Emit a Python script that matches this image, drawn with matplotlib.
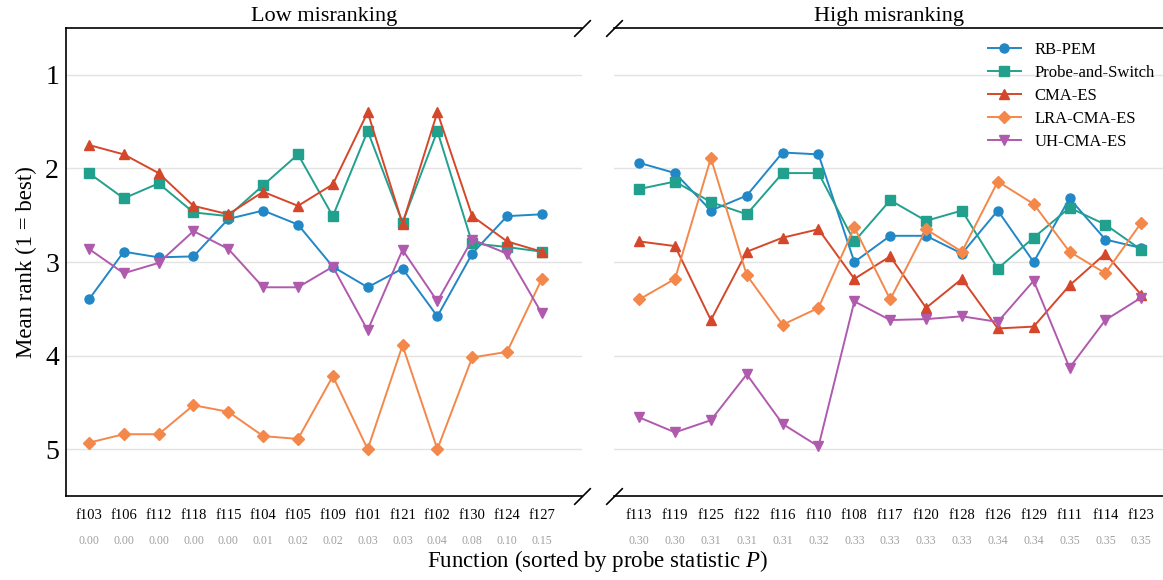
import matplotlib
matplotlib.use("Agg")
import matplotlib.pyplot as plt
import matplotlib.transforms as mtransforms

plt.rcParams["font.family"] = ["Liberation Serif", "DejaVu Serif"]
plt.rcParams["mathtext.fontset"] = "custom"
plt.rcParams["mathtext.rm"] = "Liberation Serif"
plt.rcParams["mathtext.it"] = "Liberation Serif:italic"

# Low misranking group
low_funcs = ["f103", "f106", "f112", "f118", "f115", "f104", "f105",
             "f109", "f101", "f121", "f102", "f130", "f124", "f127"]
low_p = ["0.00", "0.00", "0.00", "0.00", "0.00", "0.01", "0.02",
         "0.02", "0.03", "0.03", "0.04", "0.08", "0.10", "0.15"]
low_rbpem = [3.40, 2.89, 2.95, 2.94, 2.54, 2.45, 2.60, 3.05, 3.27, 3.07, 3.58, 2.91, 2.51, 2.49]
low_probe = [2.05, 2.32, 2.16, 2.47, 2.51, 2.18, 1.85, 2.51, 1.60, 2.58, 1.60, 2.80, 2.84, 2.89]
low_cma = [1.75, 1.85, 2.05, 2.40, 2.49, 2.25, 2.40, 2.17, 1.40, 2.59, 1.40, 2.51, 2.78, 2.89]
low_lra = [4.93, 4.84, 4.84, 4.53, 4.60, 4.86, 4.89, 4.22, 5.00, 3.89, 5.00, 4.02, 3.96, 3.18]
low_uh = [2.86, 3.12, 3.01, 2.67, 2.86, 3.27, 3.27, 3.05, 3.73, 2.87, 3.42, 2.76, 2.91, 3.55]

# High misranking group
high_funcs = ["f113", "f119", "f125", "f122", "f116", "f110", "f108", "f117",
              "f120", "f128", "f126", "f129", "f111", "f114", "f123"]
high_p = ["0.30", "0.30", "0.31", "0.31", "0.31", "0.32", "0.33", "0.33",
          "0.33", "0.33", "0.34", "0.34", "0.35", "0.35", "0.35"]
high_rbpem = [1.94, 2.05, 2.45, 2.29, 1.83, 1.85, 3.00, 2.72, 2.72, 2.91, 2.45, 3.00, 2.32, 2.76, 2.85]
high_probe = [2.22, 2.14, 2.36, 2.49, 2.05, 2.05, 2.78, 2.34, 2.56, 2.45, 3.07, 2.74, 2.42, 2.60, 2.87]
high_cma = [2.78, 2.83, 3.62, 2.89, 2.74, 2.65, 3.18, 2.94, 3.49, 3.18, 3.71, 3.69, 3.25, 2.91, 3.35]
high_lra = [3.40, 3.18, 1.89, 3.14, 3.67, 3.49, 2.63, 3.40, 2.65, 2.89, 2.14, 2.38, 2.89, 3.12, 2.58]
high_uh = [4.66, 4.82, 4.69, 4.20, 4.73, 4.97, 3.42, 3.62, 3.61, 3.58, 3.64, 3.20, 4.13, 3.62, 3.38]

methods = ["RB-PEM", "Probe-and-Switch", "CMA-ES", "LRA-CMA-ES", "UH-CMA-ES"]
colors = ["#2187c6", "#22a08e", "#d5472a", "#f4874a", "#b05aae"]
markers = ["o", "s", "^", "D", "v"]

fig = plt.figure(figsize=(11.63, 5.8), dpi=100)
ax1 = fig.add_axes([0.0567, 0.1448, 0.4437, 0.8069])
ax2 = fig.add_axes([0.5280, 0.1448, 0.4721, 0.8069])

groups = [
    (ax1, low_funcs, low_p, [low_rbpem, low_probe, low_cma, low_lra, low_uh], "Low misranking"),
    (ax2, high_funcs, high_p, [high_rbpem, high_probe, high_cma, high_lra, high_uh], "High misranking"),
]

for ax, funcs, pvals, series, title in groups:
    x = list(range(len(funcs)))
    for vals, name, c, m in zip(series, methods, colors, markers):
        ax.plot(x, vals, color=c, marker=m, markersize=6.5 if m != "D" else 6,
                linewidth=1.4, label=name, zorder=3)
    ax.set_ylim(5.5, 0.5)
    ax.set_yticks([1, 2, 3, 4, 5])
    ax.grid(axis="y", color="#e3e3e3", linewidth=1.0, zorder=0)
    ax.set_xticks(x)
    ax.set_xticklabels(funcs, fontsize=10.5)
    ax.tick_params(axis="both", length=0)
    ax.tick_params(axis="x", pad=9)
    ax.set_title(title, fontsize=16, pad=5)
    for s in ax.spines.values():
        s.set_linewidth(1.2)
    ax.spines["right"].set_visible(False)
    trans = mtransforms.blended_transform_factory(ax.transData, ax.transAxes)
    for xi, p in zip(x, pvals):
        ax.text(xi, -0.097, p, transform=trans, ha="center", va="center",
                fontsize=8.5, color="#a0a0a0")

ax1.set_xlim(-0.66, 14.15)
ax2.set_xlim(-0.70, 14.61)
ax1.tick_params(axis="y", labelsize=20, pad=5)
ax1.set_ylabel("Mean rank (1 = best)", fontsize=16.5, labelpad=6)
ax2.spines["left"].set_visible(False)
ax2.tick_params(axis="y", labelleft=False)

# broken axis marks
d = 1.0
kw = dict(marker=[(-1, -d), (1, d)], markersize=12, linestyle="none",
          color="k", mec="k", mew=1.2, clip_on=False)
ax1.plot([1, 1], [0, 1], transform=ax1.transAxes, **kw)
ax2.plot([0, 0], [0, 1], transform=ax2.transAxes, **kw)

ax2.legend(loc="upper right", bbox_to_anchor=(1.012, 1.003), frameon=False,
           fontsize=12, handlelength=2.0, labelspacing=0.42)

fig.text(0.514, 0.033, "Function (sorted by probe statistic $P$)",
         ha="center", va="center", fontsize=16.5)

fig.savefig("out.png", dpi=100)
